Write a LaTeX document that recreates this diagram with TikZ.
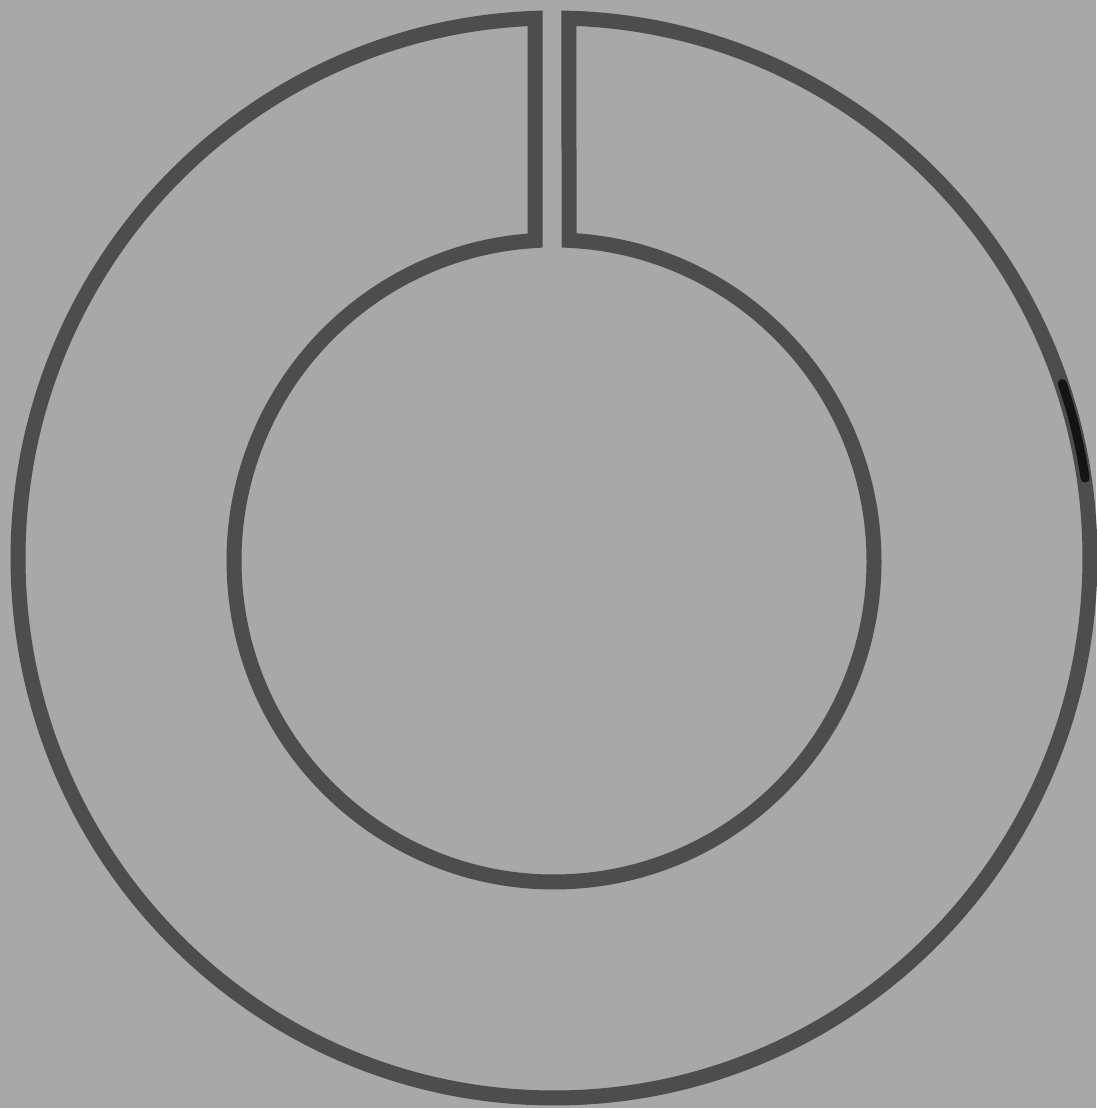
\documentclass[tikz,border=0pt]{standalone}
\usepackage{tikz}
\usetikzlibrary{calc}
\definecolor{paper}{HTML}{A8A8A8}
\definecolor{ink}{HTML}{4D4D4D}
\definecolor{blot}{HTML}{141414}
\tikzset{
  ringline/.style={draw=ink,line width=1.5mm,line join=miter},
  blotline/.style={draw=blot,line width=0.9mm,line cap=round}
}
\begin{document}
\begin{tikzpicture}[x=0.1mm,y=0.1mm]
  % page background
  \fill[paper] (0,0) rectangle (1096,1108);
  \useasboundingbox (0,0) rectangle (1096,1108);
  % ring with the slit at the top
  \coordinate (oc) at (554,550);
  \coordinate (ic) at (554,547);
  \draw[ringline] ($(oc)+(88.40:536 and 540)$)
    arc[start angle=88.40,end angle=-267.97,x radius=536,y radius=540]
    -- ($(ic)+(93.40:320 and 321)$)
    arc[start angle=93.40,end angle=447.31,x radius=320,y radius=321]
    -- cycle;
  % darker patch on the right
  \draw[blotline] ($(oc)+(18.8:537 and 541)$)
    arc[start angle=18.8,end angle=8.5,x radius=537,y radius=541];
\end{tikzpicture}
\end{document}
